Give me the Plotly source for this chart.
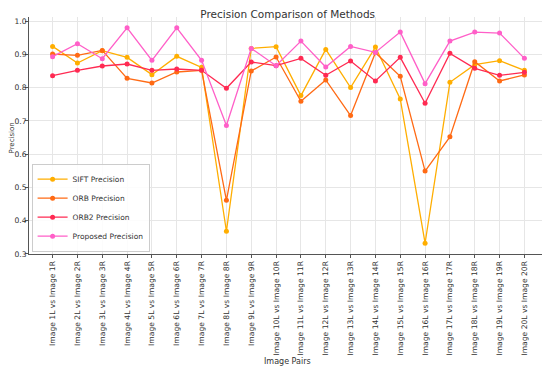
import plotly.graph_objects as go

pairs = [f"Image {i}L vs Image {i}R" for i in range(1, 21)]

sift = [0.924, 0.874, 0.911, 0.891, 0.839, 0.894, 0.861, 0.368, 0.918, 0.923,
        0.776, 0.915, 0.800, 0.922, 0.766, 0.332, 0.816, 0.869, 0.881, 0.852]
orb = [0.901, 0.897, 0.912, 0.828, 0.814, 0.847, 0.852, 0.461, 0.850, 0.892,
       0.759, 0.823, 0.716, 0.905, 0.834, 0.549, 0.652, 0.878, 0.820, 0.838]
orb2 = [0.836, 0.852, 0.865, 0.871, 0.852, 0.856, 0.852, 0.798, 0.877, 0.866,
        0.888, 0.837, 0.880, 0.820, 0.891, 0.753, 0.903, 0.858, 0.837, 0.846]
proposed = [0.893, 0.932, 0.887, 0.980, 0.882, 0.980, 0.882, 0.686, 0.918, 0.866,
            0.940, 0.862, 0.924, 0.906, 0.967, 0.812, 0.940, 0.967, 0.964, 0.888]

series = [
    ("SIFT Precision", sift, "#FFAE00"),
    ("ORB Precision", orb, "#FF6A14"),
    ("ORB2 Precision", orb2, "#FF2A52"),
    ("Proposed Precision", proposed, "#FF5FC8"),
]

fig = go.Figure()
for name, vals, col in series:
    fig.add_trace(go.Scatter(
        x=list(range(len(pairs))), y=vals, name=name, mode="lines+markers",
        line=dict(color=col, width=1.3),
        marker=dict(color=col, size=5, symbol="circle"),
    ))

axis_common = dict(
    showline=True, linecolor="#555555", linewidth=1,
    ticks="outside", ticklen=3, tickcolor="#555555",
    showgrid=True, gridcolor="#e6e6e6", gridwidth=0.8,
    zeroline=False, tickfont=dict(size=7.6, color="#333333"),
    mirror=False, automargin=False,
)

fig.update_layout(
    width=542, height=362,
    margin=dict(l=21, r=2, t=9, b=116),
    paper_bgcolor="white", plot_bgcolor="white",
    font=dict(family="DejaVu Sans", color="#333333"),
    title=dict(text="Precision Comparison of Methods", x=0.516, xanchor="center",
               y=0.983, yanchor="middle", font=dict(size=10.5, color="#333333")),
    showlegend=True,
    legend=dict(x=0.005, y=0.01, xanchor="left", yanchor="bottom",
                bgcolor="rgba(255,255,255,0.85)", bordercolor="#cccccc", borderwidth=1,
                font=dict(size=7.5, color="#333333"), itemwidth=30,
                tracegroupgap=0),
    annotations=[
        dict(text="Image Pairs", xref="paper", yref="paper", x=0.499, y=-0.452,
             xanchor="center", yanchor="middle", showarrow=False,
             font=dict(size=8, color="#333333")),
        dict(text="Precision", xref="paper", yref="paper", x=-0.0405, y=0.4916,
             xanchor="left", yanchor="middle", showarrow=False, textangle=-90,
             borderpad=0, font=dict(size=7, color="#333333")),
    ],
)
fig.update_xaxes(
    **axis_common,
    tickmode="array", tickvals=list(range(len(pairs))), ticktext=pairs,
    tickangle=-90, range=[-0.95, 19.95],
)
fig.update_yaxes(
    **axis_common,
    ticklabelstandoff=-3,
    range=[0.2996, 1.0124], tickmode="array",
    tickvals=[0.3, 0.4, 0.5, 0.6, 0.7, 0.8, 0.9, 1.0],
    ticktext=["0.3", "0.4", "0.5", "0.6", "0.7", "0.8", "0.9", "1.0"],
)

fig.write_html("out.html")
